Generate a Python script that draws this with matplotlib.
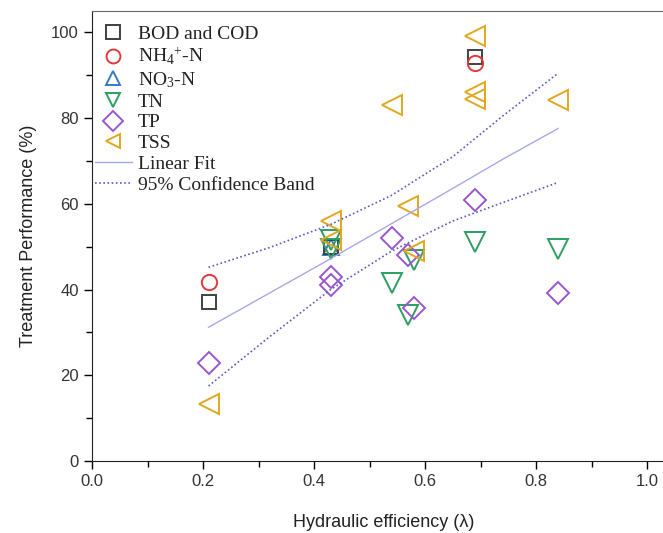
import numpy as np
import matplotlib

matplotlib.use("Agg")
import matplotlib.pyplot as plt
from matplotlib.ticker import MultipleLocator

# ---------------------------------------------------------------------------
# Data
# ---------------------------------------------------------------------------
bod_x = [0.21, 0.43, 0.69]
bod_y = [37.2, 50.0, 94.2]

nh4_x = [0.21, 0.69]
nh4_y = [41.8, 92.8]

no3_x = [0.43]
no3_y = [50.0]

tn_x = [0.43, 0.43, 0.54, 0.57, 0.58, 0.69, 0.84]
tn_y = [51.5, 49.5, 41.5, 34.0, 46.8, 51.2, 49.5]

tp_x = [0.21, 0.43, 0.43, 0.54, 0.57, 0.58, 0.69, 0.84]
tp_y = [22.8, 43.0, 41.0, 52.0, 48.0, 35.8, 61.0, 39.2]

tss_x = [0.21, 0.43, 0.43, 0.54, 0.57, 0.58, 0.69, 0.69, 0.69, 0.84]
tss_y = [13.3, 56.0, 51.5, 83.0, 59.5, 49.0, 99.2, 86.0, 84.5, 84.2]

band_x = [0.21, 0.32, 0.43, 0.54, 0.65, 0.74, 0.84]
fit_y = [31.2, 39.2, 47.2, 55.4, 63.6, 70.4, 77.6]
upper_y = [45.2, 49.8, 55.2, 62.0, 71.0, 80.5, 90.5]
lower_y = [17.5, 29.0, 40.0, 49.0, 56.0, 60.3, 65.0]

# ---------------------------------------------------------------------------
# Figure
# ---------------------------------------------------------------------------
plt.rcParams["font.family"] = ["Liberation Sans", "DejaVu Sans"]
plt.rcParams["mathtext.fontset"] = "custom"
plt.rcParams["mathtext.rm"] = "Liberation Serif"
plt.rcParams["mathtext.it"] = "Liberation Serif:italic"
plt.rcParams["mathtext.default"] = "rm"

fig = plt.figure(figsize=(6.63, 5.33), dpi=100)
ax_w = 1.05 * 555
ax = fig.add_axes([92 / 663, 72 / 533, ax_w / 663, 450 / 533])

mk = dict(linestyle="none", markerfacecolor="none", markeredgewidth=1.4)
ax.plot(no3_x, no3_y, marker="^", markersize=12, color="#3a78c8",
        label="NO$_3$-N", zorder=1.5, **mk)
ax.plot(bod_x, bod_y, marker="s", markersize=10, color="#404040",
        label="BOD and COD", **mk)
ax.plot(nh4_x, nh4_y, marker="o", markersize=11, color="#e03a3a",
        label="NH$_4$$^{+}$-N", **mk)
ax.plot(tn_x, tn_y, marker="v", markersize=14, color="#2e9e62",
        label="TN", **mk)
ax.plot(tp_x, tp_y, marker="D", markersize=11, color="#9a55d0",
        label="TP", **mk)
ax.plot(tss_x, tss_y, marker="<", markersize=15, color="#e0a820",
        label="TSS", **mk)

ax.plot(band_x, fit_y, color="#a8a8e8", linewidth=1.0, label="Linear Fit")
ax.plot(band_x, upper_y, color="#5a5ac8", linewidth=1.2, linestyle=(0, (1, 1.5)),
        label="95% Confidence Band")
ax.plot(band_x, lower_y, color="#5a5ac8", linewidth=1.2, linestyle=(0, (1, 1.5)))

ax.set_xlim(0, 1.05)
ax.set_ylim(0, 105)
ax.xaxis.set_major_locator(MultipleLocator(0.2))
ax.xaxis.set_minor_locator(MultipleLocator(0.1))
ax.yaxis.set_major_locator(MultipleLocator(20))
ax.yaxis.set_minor_locator(MultipleLocator(10))
ax.xaxis.set_major_formatter(lambda v, p: f"{v:.1f}")
ax.tick_params(which="major", direction="out", length=6, width=1.0,
               labelsize=12, labelcolor="#333333")
ax.tick_params(which="minor", direction="out", length=4, width=1.0)
ax.spines["right"].set_visible(False)
for s in ["left", "bottom"]:
    ax.spines[s].set_color("#222222")
ax.spines["top"].set_color("#666666")

ax.set_xlabel("Hydraulic efficiency (\u03bb)", fontsize=13, color="#222222",
              labelpad=18)
ax.set_ylabel("Treatment Performance (%)", fontsize=13, color="#222222",
              labelpad=10)

# legend in the reference's order
handles, labels = ax.get_legend_handles_labels()
order = ["BOD and COD", "NH$_4$$^{+}$-N", "NO$_3$-N", "TN", "TP", "TSS",
         "Linear Fit", "95% Confidence Band"]
hmap = dict(zip(labels, handles))
leg = ax.legend([hmap[k] for k in order], order, loc="upper left",
                frameon=False,
                prop={"family": "Liberation Serif", "size": 14},
                labelspacing=0.16, handlelength=1.9, handletextpad=0.3,
                borderpad=0.0, borderaxespad=0.0,
                bbox_to_anchor=(3 / ax_w, 1 - 14 / 450))
for h in leg.legend_handles:
    if hasattr(h, "set_markersize"):
        h.set_markersize(10)
for t in leg.get_texts():
    t.set_color("#222222")

fig.savefig("out.png", dpi=100)
